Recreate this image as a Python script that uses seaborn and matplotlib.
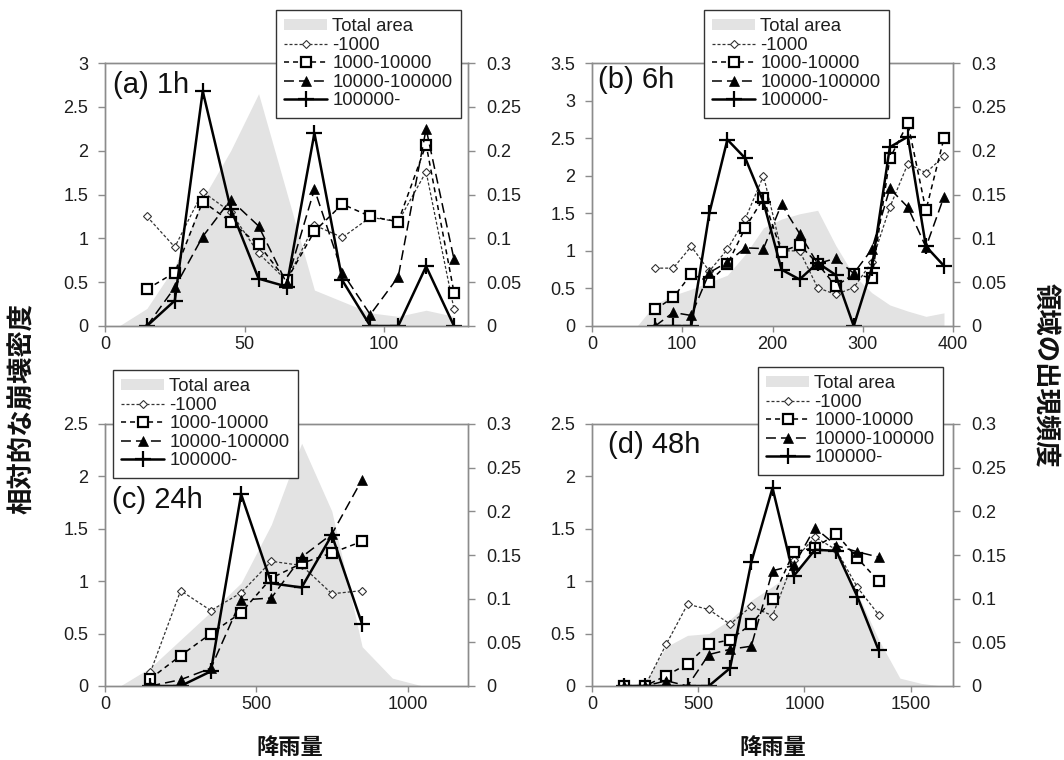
import numpy as np
import pandas as pd
import matplotlib
matplotlib.use("Agg")
import matplotlib.pyplot as plt
import seaborn as sns
from matplotlib.patches import Patch
from matplotlib.lines import Line2D
from matplotlib.ticker import FuncFormatter

sns.set_style("white")
plt.rcParams['font.family'] = ['Liberation Sans', 'Noto Sans CJK JP']

"""
Data (read off the reference)
"""
series_names = ["-1000", "1000-10000", "10000-100000", "100000-"]
area_label = "Total area"

# (a) 1h
a_x = [15, 25, 35, 45, 55, 65, 75, 85, 95, 105, 115, 125]
a_lt1k = [1.25, 0.90, 1.53, 1.30, 0.83, 0.52, 1.15, 1.01, 1.24, 1.19, 1.76, 0.19]
a_1k_10k = [0.42, 0.61, 1.42, 1.19, 0.93, 0.52, 1.08, 1.39, 1.25, 1.19, 2.07, 0.38]
a_10k_100k = [0.0, 0.44, 1.02, 1.44, 1.14, 0.49, 1.56, 0.61, 0.13, 0.56, 2.25, 0.76]
a_100k = [0.0, 0.29, 2.68, 1.34, 0.54, 0.45, 2.20, 0.52, 0.0, 0.0, 0.68, 0.0]
a_area_x = [5, 15, 25, 35, 45, 55, 65, 75, 85, 95, 105, 115, 125]
a_area = [0.0, 0.02, 0.068, 0.145, 0.20, 0.265, 0.153, 0.041, 0.028, 0.015, 0.011, 0.018, 0.011]

# (b) 6h
b_x = [70, 90, 110, 130, 150, 170, 190, 210, 230, 250, 270, 290, 310, 330, 350, 370, 390]
b_lt1k = [0.77, 0.77, 1.06, 0.73, 1.02, 1.43, 2.00, 1.00, 1.00, 0.51, 0.42, 0.51, 0.85, 1.58, 2.16, 2.04, 2.26]
b_1k_10k = [0.22, 0.38, 0.69, 0.59, 0.82, 1.31, 1.70, 0.99, 1.08, 0.83, 0.53, 0.69, 0.64, 2.23, 2.70, 1.54, 2.50]
b_10k_100k = [0.0, 0.18, 0.14, 0.71, 0.85, 1.04, 1.03, 1.62, 1.23, 0.83, 0.90, 0.70, 1.02, 1.83, 1.58, 1.05, 1.72]
b_100k = [0.0, 0.0, 0.0, 1.50, 2.48, 2.23, 1.65, 0.75, 0.62, 0.84, 0.68, 0.0, 0.77, 2.38, 2.52, 1.06, 0.80]
b_area_x = [50, 70, 90, 110, 130, 150, 170, 190, 210, 230, 250, 270, 290, 310, 330, 350, 370, 390]
b_area = [0.0, 0.025, 0.035, 0.042, 0.05, 0.058, 0.082, 0.112, 0.122, 0.128, 0.132, 0.092, 0.058, 0.038, 0.024, 0.017, 0.011, 0.015]

# (c) 24h
c_x = [150, 250, 350, 450, 550, 650, 750, 850]
c_lt1k = [0.13, 0.91, 0.72, 0.89, 1.19, 1.15, 0.88, 0.91]
c_1k_10k = [0.07, 0.29, 0.50, 0.70, 1.03, 1.17, 1.27, 1.38]
c_10k_100k = [0.0, 0.06, 0.17, 0.82, 0.84, 1.23, 1.45, 1.97]
c_100k = [0.0, 0.0, 0.14, 1.83, 0.98, 0.94, 1.44, 0.59]
c_area_x = [50, 150, 250, 350, 450, 550, 650, 750, 850, 950, 1050]
c_area = [0.0, 0.021, 0.053, 0.085, 0.118, 0.185, 0.278, 0.20, 0.045, 0.009, 0.0]

# (d) 48h
d_x = [150, 250, 350, 450, 550, 650, 750, 850, 950, 1050, 1150, 1250, 1350]
d_lt1k = [0.0, 0.0, 0.40, 0.78, 0.73, 0.59, 0.76, 0.67, 1.20, 1.42, 1.30, 0.94, 0.68]
d_1k_10k = [0.0, 0.0, 0.10, 0.21, 0.40, 0.44, 0.59, 0.83, 1.28, 1.32, 1.45, 1.22, 1.00]
d_10k_100k = [0.0, 0.0, 0.05, 0.0, 0.30, 0.35, 0.38, 1.10, 1.15, 1.51, 1.34, 1.28, 1.23]
d_100k = [0.0, 0.0, 0.0, 0.0, 0.0, 0.17, 1.18, 1.89, 1.05, 1.30, 1.29, 0.85, 0.34]
d_area_x = [150, 250, 350, 450, 550, 650, 750, 850, 950, 1050, 1150, 1250, 1350, 1450, 1550, 1650]
d_area = [0.0, 0.005, 0.045, 0.058, 0.06, 0.076, 0.098, 0.114, 0.131, 0.156, 0.156, 0.106, 0.053, 0.009, 0.003, 0.0]

"""
Styles
"""
AREA_COLOR = "#e3e3e3"
SPINE_COLOR = "#8c8c8c"
TEXT_COLOR = "#1e1e1e"

styles = {
    "-1000": dict(marker="D", ms=4.2, mfc="white", mec="#333333", mew=0.8,
                  lw=0.9, ls=(0, (2.4, 1.6)), color="#333333"),
    "1000-10000": dict(marker="s", ms=7, mfc="white", mec="black", mew=1.6,
                       lw=1.1, ls=(0, (3.3, 2.6)), color="black"),
    "10000-100000": dict(marker="^", ms=7, mfc="black", mec="black", mew=0.5,
                         lw=1.1, ls=(0, (6.5, 3.3)), color="black"),
    "100000-": dict(marker="+", ms=11, mec="black", mew=1.6,
                    lw=1.8, ls="-", color="black"),
}


def rect(l, r, t, b):
    return [l / 1064, 1 - b / 760, (r - l) / 1064, (b - t) / 760]


fmt = FuncFormatter(lambda v, p: f"{v:g}")


def panel(fig, box, x, series, area_x, area, xlim, xticks, ymax, title, title_pos, leg_pos):
    # area on the primary axes (right scale), lines on the twin (left scale, drawn on top)
    ax = fig.add_axes(rect(*box))
    ax.fill_between(area_x, area, color=AREA_COLOR, lw=0)
    ax.set_xlim(*xlim)
    ax.set_ylim(0, 0.3)
    ax.set_xticks(xticks)
    ax.xaxis.set_major_formatter(fmt)

    ax2 = ax.twinx()
    for name, vals in zip(series_names, series):
        df = pd.DataFrame({"x": x, "y": vals})
        sns.lineplot(data=df, x="x", y="y", ax=ax2, legend=False, **styles[name])
    ax2.set_ylim(0, ymax)
    ax2.set_xlim(*xlim)
    ax2.set_xlabel("")
    ax2.set_ylabel("")

    # swap sides: area scale on the right, density scale on the left
    ax.yaxis.tick_right()
    ax.yaxis.set_label_position("right")
    ax.set_yticks(np.arange(0, 0.301, 0.05))
    ax.yaxis.set_major_formatter(fmt)
    ax2.yaxis.tick_left()
    ax2.yaxis.set_label_position("left")
    ax2.set_yticks(np.arange(0, ymax + 0.001, 0.5))
    ax2.yaxis.set_major_formatter(fmt)

    for a in (ax, ax2):
        for s in a.spines.values():
            s.set_color(SPINE_COLOR)
            s.set_linewidth(1.0)
        a.grid(False)
    ax.tick_params(axis="x", bottom=True, direction="out", length=4, width=1,
                   color=SPINE_COLOR, labelsize=13, labelcolor=TEXT_COLOR, pad=3)
    ax.tick_params(axis="y", right=True, left=False, labelright=True, labelleft=False,
                   direction="out", length=5, width=1,
                   color=SPINE_COLOR, labelsize=13, labelcolor=TEXT_COLOR, pad=8)
    ax2.tick_params(axis="y", left=True, right=False, labelleft=True, labelright=False,
                    direction="out", length=5, width=1,
                    color=SPINE_COLOR, labelsize=13, labelcolor=TEXT_COLOR, pad=7)

    ax2.text(title_pos[0], title_pos[1], title, transform=ax2.transAxes,
             fontsize=21, ha="left", va="center", color="#111111")

    handles = [Patch(facecolor=AREA_COLOR, edgecolor="none")]
    for name in series_names:
        st = styles[name]
        handles.append(Line2D([], [], color=st["color"], lw=st["lw"], ls=st["ls"],
                              marker=st["marker"], ms=st["ms"], mfc=st.get("mfc", st["color"]),
                              mec=st["mec"], mew=st["mew"]))
    leg = ax2.legend(handles, [area_label] + series_names, loc="upper left",
                     bbox_to_anchor=(leg_pos[0] / 1064, 1 - leg_pos[1] / 760),
                     bbox_transform=fig.transFigure, fontsize=13.3, frameon=True,
                     fancybox=False, framealpha=1, edgecolor="#333333",
                     borderpad=0.45, labelspacing=0.08, handlelength=2.3,
                     handletextpad=0.3, handleheight=0.5, borderaxespad=0)
    leg.get_frame().set_linewidth(1.0)
    for t in leg.get_texts():
        t.set_color(TEXT_COLOR)
    return ax, ax2


fig = plt.figure(figsize=(10.64, 7.6), dpi=100)

panel(fig, (105, 468, 63, 326), a_x, [a_lt1k, a_1k_10k, a_10k_100k, a_100k],
      a_area_x, a_area, (0, 130), [0, 50, 100], 3.0, "(a) 1h", (0.022, 0.916), (276, 10))
panel(fig, (592, 953, 63, 326), b_x, [b_lt1k, b_1k_10k, b_10k_100k, b_100k],
      b_area_x, b_area, (0, 400), [0, 100, 200, 300, 400], 3.5, "(b) 6h", (0.017, 0.935), (704, 10))
panel(fig, (105, 468, 424, 686), c_x, [c_lt1k, c_1k_10k, c_10k_100k, c_100k],
      c_area_x, c_area, (0, 1200), [0, 500, 1000], 2.5, "(c) 24h", (0.019, 0.71), (113, 370))
panel(fig, (592, 953, 424, 686), d_x, [d_lt1k, d_1k_10k, d_10k_100k, d_100k],
      d_area_x, d_area, (0, 1700), [0, 500, 1000, 1500], 2.5, "(d) 48h", (0.044, 0.92), (758, 367))

cjk = ["Noto Sans CJK JP", "DejaVu Sans"]
fig.text(22 / 1064, 1 - 408 / 760, "相対的な崩壊密度", rotation=90, ha="center", va="center",
         fontsize=19, fontweight="bold", family=cjk, color="#111111")
fig.text(1046 / 1064, 1 - 375 / 760, "領域の出現頻度", rotation=270, ha="center", va="center",
         fontsize=19, fontweight="bold", family=cjk, color="#111111")
fig.text(290 / 1064, 1 - 748 / 760, "降雨量", ha="center", va="center",
         fontsize=16, fontweight="bold", family=cjk, color="#111111")
fig.text(773 / 1064, 1 - 748 / 760, "降雨量", ha="center", va="center",
         fontsize=16, fontweight="bold", family=cjk, color="#111111")

fig.savefig("out.png", dpi=100)
